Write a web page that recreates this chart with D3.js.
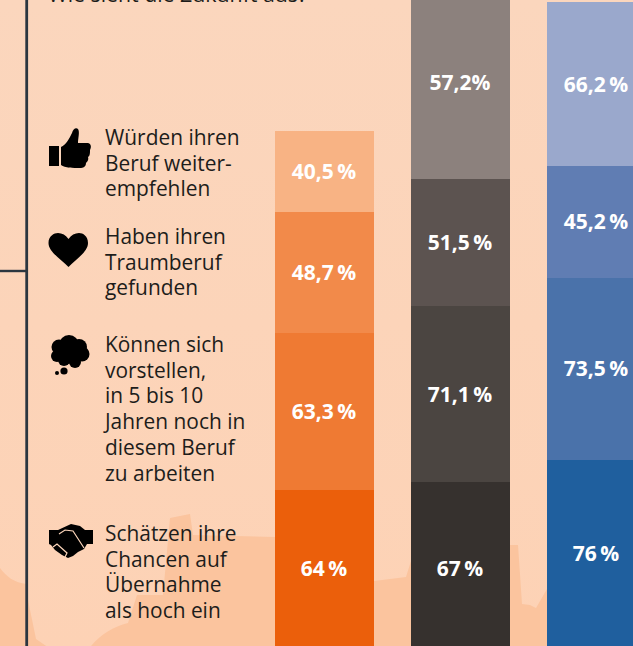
<!DOCTYPE html>
<html lang="de">
<head>
<meta charset="utf-8">
<title>Wie sieht die Zukunft aus?</title>
<script src="https://cdn.jsdelivr.net/npm/d3@7"></script>
<style>
html,body{margin:0;padding:0;background:#fcd5ba;overflow:hidden}
svg{display:block}
text{font-family:"Open Sans",sans-serif}
</style>
</head>
<body>
<svg id="chart" width="633" height="646"></svg>
<script>
// Stacks read bottom to top. Values are the segment sizes as drawn in the picture.
const seriesNames = ["orange", "grey", "blue"];
const orangeValues = [64, 63.3, 48.7, 32.7];
const greyValues = [67, 71.1, 51.5, 77.6];
const blueValues = [76, 73.5, 45.2, 66.2];
const orangeLabels = ["64\u2009%", "63,3\u2009%", "48,7\u2009%", "40,5\u2009%"];
const greyLabels = ["67\u2009%", "71,1\u2009%", "51,5\u2009%", "57,2%"];
const blueLabels = ["76\u2009%", "73,5\u2009%", "45,2\u2009%", "66,2\u2009%"];
const orangeColors = ["#eb5f0b", "#ef7a33", "#f28a4a", "#f8b384"];
const greyColors = ["#36312e", "#4b4541", "#5c5350", "#8c817d"];
const blueColors = ["#1f5f9e", "#4a72aa", "#607db3", "#9aa8cc"];
const title = "Wie sieht die Zukunft aus?";
const legendLines = [
  ["Würden ihren", "Beruf weiter-", "empfehlen"],
  ["Haben ihren", "Traumberuf", "gefunden"],
  ["Können sich", "vorstellen,", "in 5 bis 10", "Jahren noch in", "diesem Beruf", "zu arbeiten"],
  ["Schätzen ihre", "Chancen auf", "Übernahme", "als hoch ein"]
];

const svg = d3.select("#chart");
const defs = svg.append("defs");
const grad = defs.append("linearGradient").attr("id", "bg").attr("x1", 0).attr("x2", 0).attr("y1", 0).attr("y2", 1);
grad.append("stop").attr("offset", 0).attr("stop-color", "#fbd6bd");
grad.append("stop").attr("offset", 1).attr("stop-color", "#fdd2b5");
svg.append("rect").attr("width", 633).attr("height", 646).attr("fill", "url(#bg)");

// Background skyline
svg.append("path").attr("fill", "#fbc49e").attr("d",
  "M0,568 C6,576 14,583 27,584 L28,600 L36,639 L52,650 L88,650 C98,636 112,627 128,623 L137,595 L163,595 L170,518 L190,514 L193,535 L275,537 L340,581 " +
  "L374,581 L406,577 L411,561 L510,545 L518,545 L522,604 L530,605 L536,608 L547,589 L600,560 L633,650 L0,650 Z");

// Bars
const x = d3.scaleBand().domain(seriesNames).range([275, 646]).paddingInner(37 / 136).paddingOuter(0);
const y = d3.scaleLinear().domain([0, 100]).range([648, 400.5]);
const stacks = [
  {name: "orange", values: orangeValues, labels: orangeLabels, colors: orangeColors, nudge: [0, 0, 0, 0]},
  {name: "grey", values: greyValues, labels: greyLabels, colors: greyColors, nudge: [4, 0, 0, 0]},
  {name: "blue", values: blueValues, labels: blueLabels, colors: blueColors, nudge: [0, 0, 0, 0]}
];
stacks.forEach(s => {
  let run = 0;
  const segs = s.values.map((v, i) => {
    const d = {y0: run, y1: run + v, label: s.labels[i], color: s.colors[i], nudge: s.nudge[i]};
    run += v;
    return d;
  });
  const g = svg.append("g").attr("class", "stack-" + s.name);
  g.selectAll("rect").data(segs).join("rect")
    .attr("x", x(s.name)).attr("width", x.bandwidth())
    .attr("y", d => Math.round(y(d.y1)))
    .attr("height", d => Math.round(y(d.y0)) - Math.round(y(d.y1)))
    .attr("fill", d => d.color);
  g.selectAll("text").data(segs).join("text")
    .attr("x", x(s.name) + x.bandwidth() / 2 - 0.5)
    .attr("y", d => (y(d.y0) + y(d.y1)) / 2 + d.nudge)
    .attr("dy", "0.35em")
    .attr("text-anchor", "middle")
    .attr("font-size", 21).attr("font-weight", 700).attr("fill", "#fff")
    .text(d => d.label);
});

// Axis rules
const rule = "#2b3640";
svg.append("line").attr("x1", 26.7).attr("x2", 26.7).attr("y1", 0).attr("y2", 646).attr("stroke", rule).attr("stroke-width", 2.8);
svg.append("line").attr("x1", 0).attr("x2", 26).attr("y1", 271).attr("y2", 271).attr("stroke", rule).attr("stroke-width", 2.4);

// Title, cut off by the top edge
svg.append("text").attr("x", 48).attr("y", 2).attr("font-size", 21.3).attr("fill", "#1d1d1b").text(title);

// Legend text
const legendFirstBaseline = [145, 244, 352, 541];
const legend = svg.append("g").attr("fill", "#1d1d1b").attr("font-size", 20.9);
legendLines.forEach((lines, i) => {
  legend.append("g").selectAll("text").data(lines).join("text")
    .attr("x", 105)
    .attr("y", (d, j) => legendFirstBaseline[i] + j * 25.7)
    .text(d => d);
});

// Icons
const icons = svg.append("g").attr("fill", "#000");
icons.append("path").attr("d",
  "M49,146 L59,146 L59,166 L49,166 Z " +
  "M61,147 C66,145 69,139 72,133 C73,129 76,127 78,129 C80,132 78,138 78,143 L88,143 C92,144 91,148 90,150 C90,153 90,156 88,157 C89,160 87,162 86,163 C86,167 83,168 80,168 C73,168 65,168 61,165 Z");
icons.append("path").attr("d",
  "M68.5,267 C61,259 48.5,252 48.5,243 C48.5,236 54,233 58,233 C62,233 66,235 68.5,239 C71,235 75,233 79,233 C83,233 88,236 88,243 C88,252 76,259 68.5,267 Z");
const cloudCircles = [[69,345,10],[59,347,7.5],[79,347,8],[57,356,6],[82,354,7.5],[68,354,10],[75,362,6],[64,360,6],[64,371,3.6],[57,373,2]];
icons.selectAll("circle").data(cloudCircles).join("circle")
  .attr("cx", d => d[0]).attr("cy", d => d[1]).attr("r", d => d[2]);
icons.append("path").attr("d",
  "M49,530 L58,530 L71,524 L80,526 L85,530 L93,530 L93,544 L87,544 L84,549 L78,552 L73,556 L68,558 L62,555 L55,550 L51,545 L49,544 Z");
const hand = svg.append("g").attr("fill", "none").attr("stroke", "#fcd5ba").attr("stroke-width", 1.2);
hand.append("path").attr("d", "M59,534 L65,530 L73,531 L84,548");
hand.append("path").attr("d", "M53,547 L57,544 L67,553 L65,557");
</script>
</body>
</html>
